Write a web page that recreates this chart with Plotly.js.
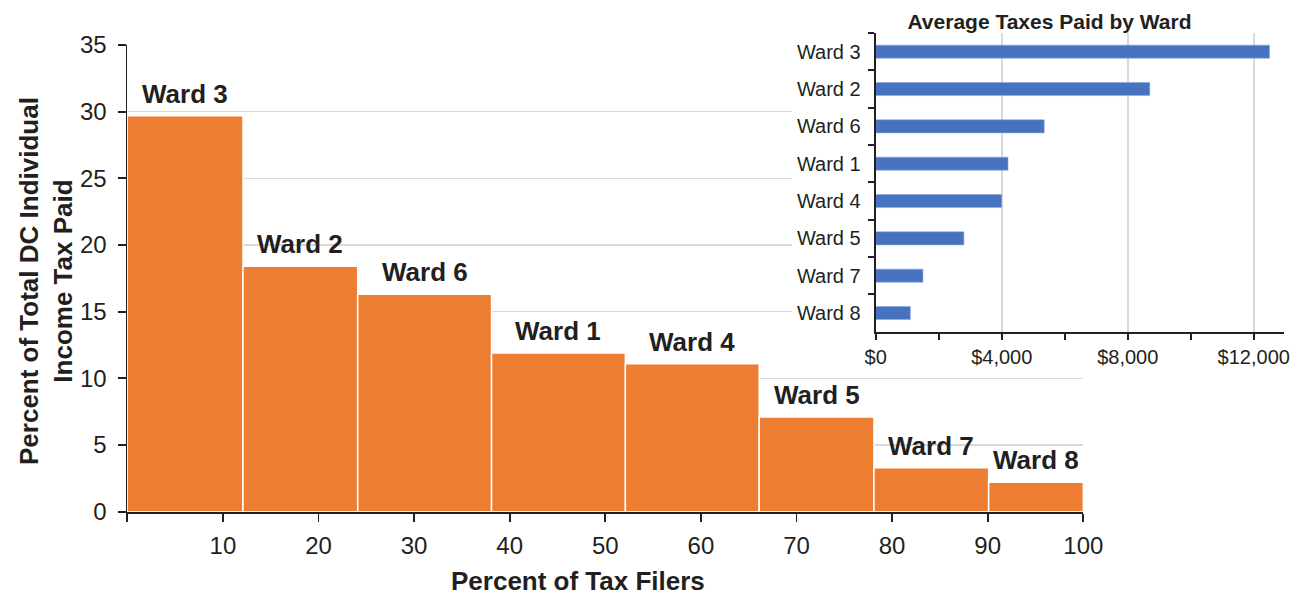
<!DOCTYPE html>
<html>
<head>
<meta charset="utf-8">
<script src="https://cdn.plot.ly/plotly-3.0.1.min.js"></script>
<style>html,body{margin:0;padding:0;background:#fff;}#chart{width:1311px;height:595px;}</style>
</head>
<body>
<div id="chart"></div>
<script>
// ---- data ----
var wards = ['Ward 3', 'Ward 2', 'Ward 6', 'Ward 1', 'Ward 4', 'Ward 5', 'Ward 7', 'Ward 8'];
var filerShare = [12.1, 12.0, 14.0, 14.0, 14.0, 12.0, 12.0, 9.9];   // % of tax filers (bar widths)
var taxShare = [29.7, 18.4, 16.3, 11.9, 11.1, 7.1, 3.3, 2.2];       // % of total DC income tax paid
var avgTax = [12500, 8700, 5350, 4200, 4000, 2800, 1500, 1100];     // average taxes paid ($)
var xTickVals = [0, 10, 20, 30, 40, 50, 60, 70, 80, 90, 100];
var xTickText = ['', '10', '20', '30', '40', '50', '60', '70', '80', '90', '100'];
var insetTickVals = [0, 4000, 8000, 12000];
var insetTickText = ['$0', '$4,000', '$8,000', '$12,000'];

// bar centres from cumulative filer shares
var mids = [];
var cum = 0;
for (var i = 0; i < filerShare.length; i++) {
  mids.push(cum + filerShare[i] / 2);
  cum += filerShare[i];
}

var W = 1311, H = 595;
function px(x) { return x / W; }
function py(y) { return 1 - y / H; }

var FONT = 'Liberation Sans, Arial, Helvetica, sans-serif';
var TXT = '#231f20';
var GRID = '#d9d9d9';

var traces = [
  {
    type: 'bar',
    x: mids,
    y: taxShare,
    width: filerShare,
    hovertext: wards,
    textposition: 'none',
    marker: {color: '#ed7d31', line: {color: '#ffffff', width: 1.5}},
    showlegend: false,
    xaxis: 'x', yaxis: 'y'
  },
  {
    // white backdrop for the inset (no marks drawn)
    type: 'scatter',
    mode: 'none',
    x: avgTax,
    y: wards,
    hoverinfo: 'skip',
    showlegend: false,
    xaxis: 'x2', yaxis: 'y2'
  },
  {
    type: 'bar',
    orientation: 'h',
    x: avgTax,
    y: wards,
    width: 0.35,
    marker: {color: '#4672c0', line: {color: '#8eaadb', width: 0.6}},
    showlegend: false,
    xaxis: 'x3', yaxis: 'y3'
  }
];

var annotations = [];
for (var j = 0; j < wards.length; j++) {
  annotations.push({
    x: mids[j], y: taxShare[j], xref: 'x', yref: 'y',
    text: '<b>' + wards[j] + '</b>',
    showarrow: false, xanchor: 'center', yanchor: 'bottom', yshift: 5,
    font: {family: FONT, size: 26, color: TXT}
  });
}
annotations.push({
  xref: 'paper', yref: 'paper', x: px(578), y: py(581),
  text: '<b>Percent of Tax Filers</b>', showarrow: false,
  xanchor: 'center', yanchor: 'middle',
  font: {family: FONT, size: 26, color: TXT}
});
annotations.push({
  xref: 'paper', yref: 'paper', x: px(46), y: py(281),
  text: '<b>Percent of Total DC Individual<br>Income Tax Paid</b>', showarrow: false,
  textangle: -90, xanchor: 'center', yanchor: 'middle', align: 'center',
  font: {family: FONT, size: 26, color: TXT}
});

var layout = {
  width: W, height: H,
  margin: {l: 0, r: 0, t: 0, b: 0},
  paper_bgcolor: '#ffffff',
  plot_bgcolor: '#ffffff',
  font: {family: FONT, color: TXT},
  bargap: 0,
  showlegend: false,
  title: {
    text: '<b>Average Taxes Paid by Ward</b>',
    x: px(1049.5), xanchor: 'center', xref: 'paper',
    y: py(22), yanchor: 'middle', yref: 'paper',
    font: {family: FONT, size: 21, color: TXT}
  },
  xaxis: {
    domain: [px(127.3), px(1083.3)],
    range: [0, 100],
    tickvals: xTickVals, ticktext: xTickText,
    ticks: 'outside', ticklen: 8, tickwidth: 1.8, tickcolor: TXT,
    showline: true, linecolor: TXT, linewidth: 1.8,
    showgrid: false, zeroline: false,
    tickfont: {family: FONT, size: 24, color: TXT},
    ticklabelstandoff: 4,
    fixedrange: true
  },
  yaxis: {
    domain: [py(511.7), py(45)],
    range: [0, 35],
    dtick: 5, tick0: 0,
    ticks: 'outside', ticklen: 8, tickwidth: 1.8, tickcolor: TXT,
    showline: true, linecolor: TXT, linewidth: 1.8,
    showgrid: true, gridcolor: GRID, gridwidth: 1.6,
    zeroline: false,
    tickfont: {family: FONT, size: 24, color: TXT},
    ticklabelstandoff: 6,
    fixedrange: true
  },
  xaxis2: {domain: [px(792), 1], visible: false, fixedrange: true},
  yaxis2: {domain: [py(372), 1], visible: false, fixedrange: true},
  xaxis3: {
    domain: [px(875.7), px(1284)],
    anchor: 'y3',
    range: [0, 12960],
    tickvals: insetTickVals, ticktext: insetTickText,
    ticks: 'outside', ticklen: 6, tickwidth: 1.8, tickcolor: TXT,
    minor: {dtick: 2000, tick0: 0, ticks: 'outside', ticklen: 6, tickwidth: 1.8, tickcolor: TXT, showgrid: false},
    showline: true, linecolor: TXT, linewidth: 2,
    showgrid: true, gridcolor: GRID, gridwidth: 2,
    zeroline: false,
    tickfont: {family: FONT, size: 20, color: TXT},
    fixedrange: true
  },
  yaxis3: {
    domain: [py(331.7), py(33)],
    anchor: 'x3',
    type: 'category',
    autorange: 'reversed',
    ticks: 'outside', ticklen: 6, tickwidth: 1.8, tickcolor: TXT,
    tickson: 'boundaries',
    showline: true, linecolor: TXT, linewidth: 2,
    showgrid: false, zeroline: false,
    tickfont: {family: FONT, size: 20, color: TXT},
    ticklabelstandoff: 9,
    fixedrange: true
  },
  annotations: annotations
};

Plotly.newPlot('chart', traces, layout, {displayModeBar: false, staticPlot: true});
</script>
</body>
</html>
